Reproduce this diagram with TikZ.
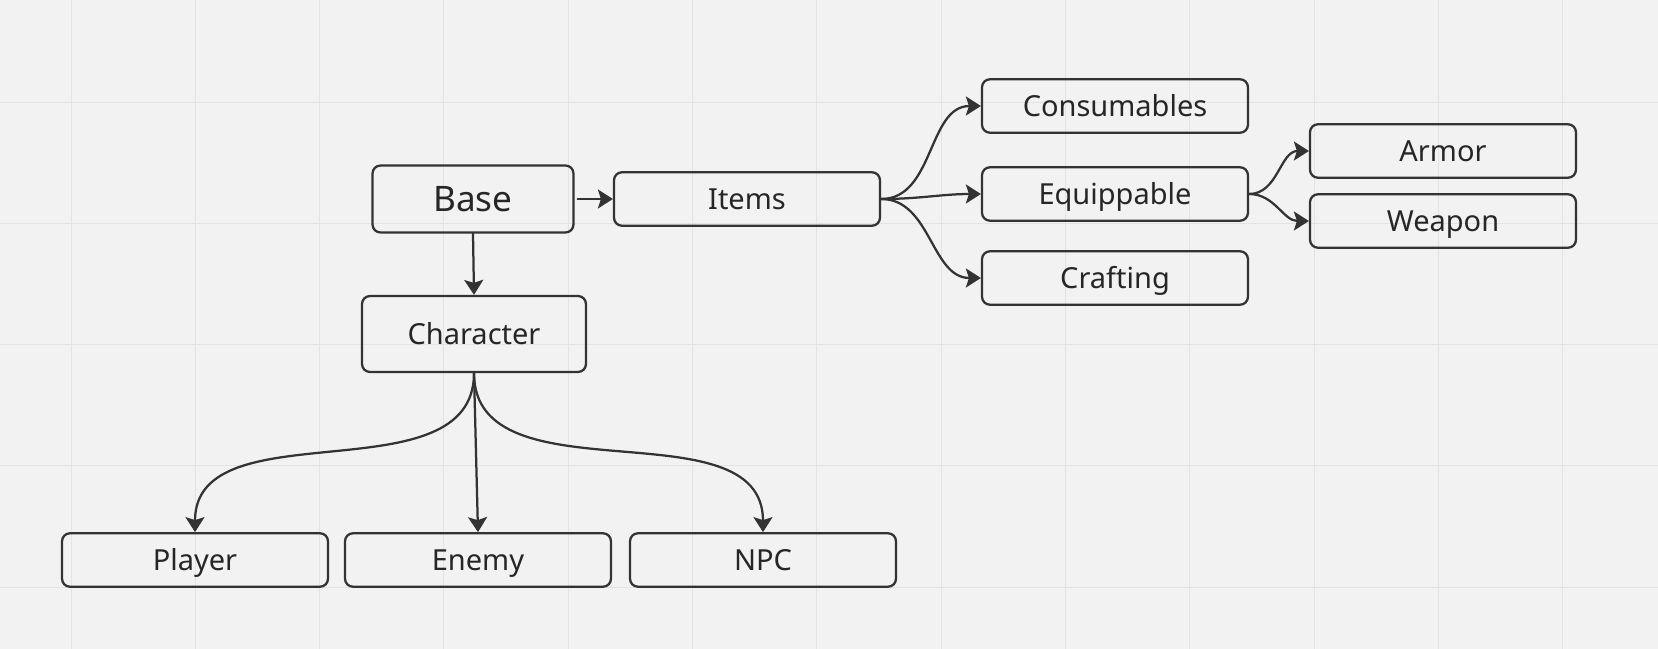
\documentclass[tikz,border=0pt]{standalone}
\usepackage{fontspec}
\setmainfont{Noto Sans}
\usetikzlibrary{arrows.meta}
\definecolor{bgcol}{HTML}{F2F2F2}
\definecolor{gridcol}{HTML}{E3E3E3}
\definecolor{inkcol}{HTML}{333333}
\begin{document}
\begin{tikzpicture}[x=0.02cm, y=-0.02cm, line join=round, line cap=round,
  >={Stealth[length=0.3cm,width=0.38cm,inset=0.06cm]},
  box/.style={draw=inkcol, line width=0.045cm, rounded corners=0.16cm, minimum width=5.32cm,
    minimum height=1.07cm, inner sep=0pt, text height=12pt, text depth=0pt,
    text=black!85, font=\fontsize{16.5}{18}\selectfont},
  link/.style={draw=inkcol, line width=0.045cm, ->}]
  % background and grid
  \fill[bgcol] (0,0) rectangle (1658,649);
  \useasboundingbox (0,0) rectangle (1658,649);
  \foreach \i in {0,...,12} \draw[gridcol, line width=0.02cm] ({71+124.3*\i},0) -- ({71+124.3*\i},649);
  \foreach \j in {0,...,4} \draw[gridcol, line width=0.02cm] (0,{102+121.25*\j}) -- (1658,{102+121.25*\j});
  % nodes
  \node[box, minimum width=4.02cm, minimum height=1.34cm, text height=14.3pt, font=\fontsize{20}{22}\selectfont] (base) at (473,199) {Base};
  \node[box, minimum width=4.48cm, minimum height=1.52cm] (character) at (474,334) {Character};
  \node[box] (items) at (747,199) {Items};
  \node[box] (consumables) at (1115,106) {Consumables};
  \node[box] (equippable) at (1115,194) {Equippable};
  \node[box] (crafting) at (1115,278) {Crafting};
  \node[box] (armor) at (1443,151) {Armor};
  \node[box] (weapon) at (1443,221) {Weapon};
  \node[box] (player) at (195,560) {Player};
  \node[box] (enemy) at (478,560) {Enemy};
  \node[box] (npc) at (763,560) {NPC};
  % connectors
  \draw[link, shorten <=0.06cm] (base.east) -- (items.west);
  \draw[link] (base.south) -- (character.north);
  \draw[link] (items.east) to[out=0,in=180] (consumables.west);
  \draw[link] (items.east) to[out=0,in=180] (equippable.west);
  \draw[link] (items.east) to[out=0,in=180] (crafting.west);
  \draw[link] (equippable.east) to[out=0,in=180] (armor.west);
  \draw[link] (equippable.east) to[out=0,in=180] (weapon.west);
  \draw[link] (character.south) to[out=-90,in=90] (player.north);
  \draw[link] (character.south) -- (enemy.north);
  \draw[link] (character.south) to[out=-90,in=90] (npc.north);
\end{tikzpicture}
\end{document}
